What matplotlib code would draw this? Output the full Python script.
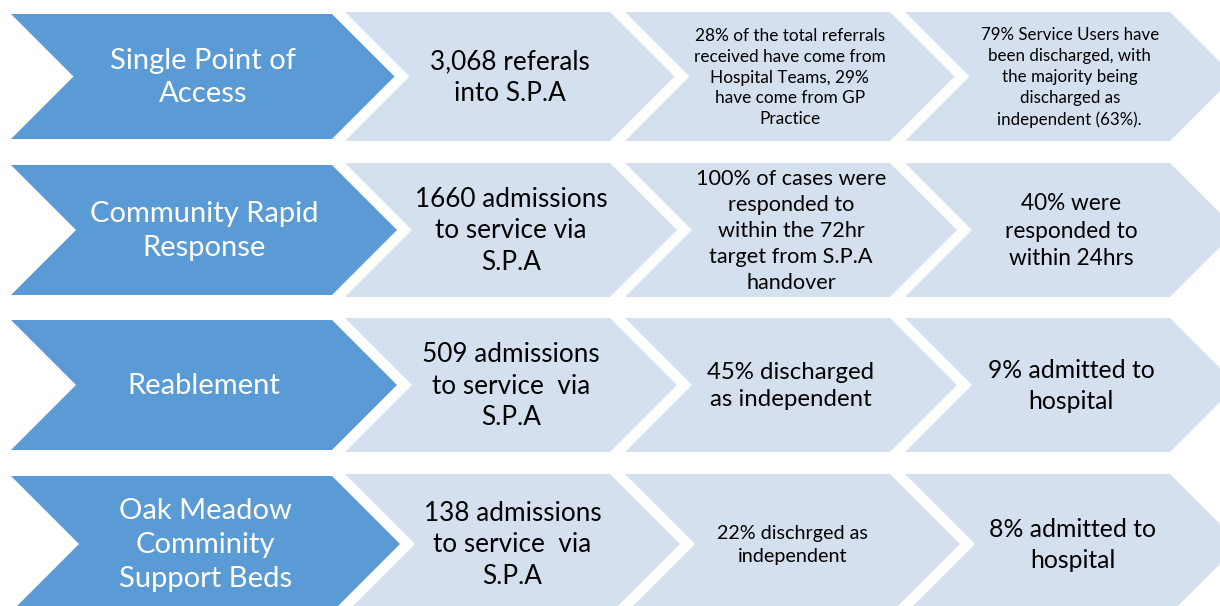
import matplotlib.pyplot as plt
from matplotlib.patches import Polygon

plt.rcParams['font.family'] = ['Lato', 'DejaVu Sans']

W, H = 1220, 606

# row headings (blue chevrons)
services = [
    "Single Point of\nAccess",
    "Community Rapid\nResponse",
    "Reablement",
    "Oak Meadow\nComminity\nSupport Beds",
]

# light chevrons, one list per column
col1 = [
    "3,068 referals\ninto S.P.A",
    "1660 admissions\nto service via\nS.P.A",
    "509 admissions\nto service  via\nS.P.A",
    "138 admissions\nto service  via\nS.P.A",
]
col2 = [
    "28% of the total referrals\nreceived have come from\nHospital Teams, 29%\nhave come from GP\nPractice",
    "100% of cases were\nresponded to\nwithin the 72hr\ntarget from S.P.A\nhandover",
    "45% discharged\nas independent",
    "22% dischrged as\nindependent",
]
col3 = [
    "79% Service Users have\nbeen discharged, with\nthe majority being\ndischarged as\nindependent (63%).",
    "40% were\nresponded to\nwithin 24hrs",
    "9% admitted to\nhospital",
    "8% admitted to\nhospital",
]
col_sizes = [
    [18.8, 18.8, 18.8, 18.8],
    [12.4, 15.6, 17.3, 14.2],
    [12.2, 16.3, 17.8, 17.8],
]
col_spacing = [1.32, 1.38, 1.38]

BLUE = "#5B9BD5"
LIGHT = "#D5E0EF"

fig = plt.figure(figsize=(W / 100, H / 100), dpi=100)
ax = fig.add_axes([0, 0, 1, 1])
ax.set_xlim(0, W)
ax.set_ylim(H, 0)
ax.axis("off")


def chevron(x0, x1, top, bot, color):
    mid = (top + bot) / 2
    d = (bot - top) / 2
    pts = [(x0, top), (x1, top), (x1 + d, mid), (x1, bot), (x0, bot), (x0 + d, mid)]
    ax.add_patch(Polygon(pts, closed=True, fc=color, ec="none", zorder=1))
    return x0 + d, x1


row_tops = [14, 165, 320, 476]
row_hs = [125, 130, 130, 136]

for r in range(4):
    top = row_tops[r]
    bot = top + row_hs[r]
    mid = (top + bot) / 2
    for c, col in enumerate([col1, col2, col3]):
        x0 = 345 + c * 280
        a, b = chevron(x0, x0 + 265, top - 2, bot + 2, LIGHT)
        ax.text((a + b) / 2, mid + 1, col[r], color="black", fontsize=col_sizes[c][r],
                ha="center", va="center", linespacing=col_spacing[c], zorder=3)
    # blue drawn last so it sits over the first light chevron's notch
    a, b = chevron(11, 332, top, bot, BLUE)
    ax.text((a + b) / 2, mid + 1, services[r], color="white", fontsize=21,
            ha="center", va="center", linespacing=1.36, zorder=3)

fig.savefig("out.png", dpi=100)
